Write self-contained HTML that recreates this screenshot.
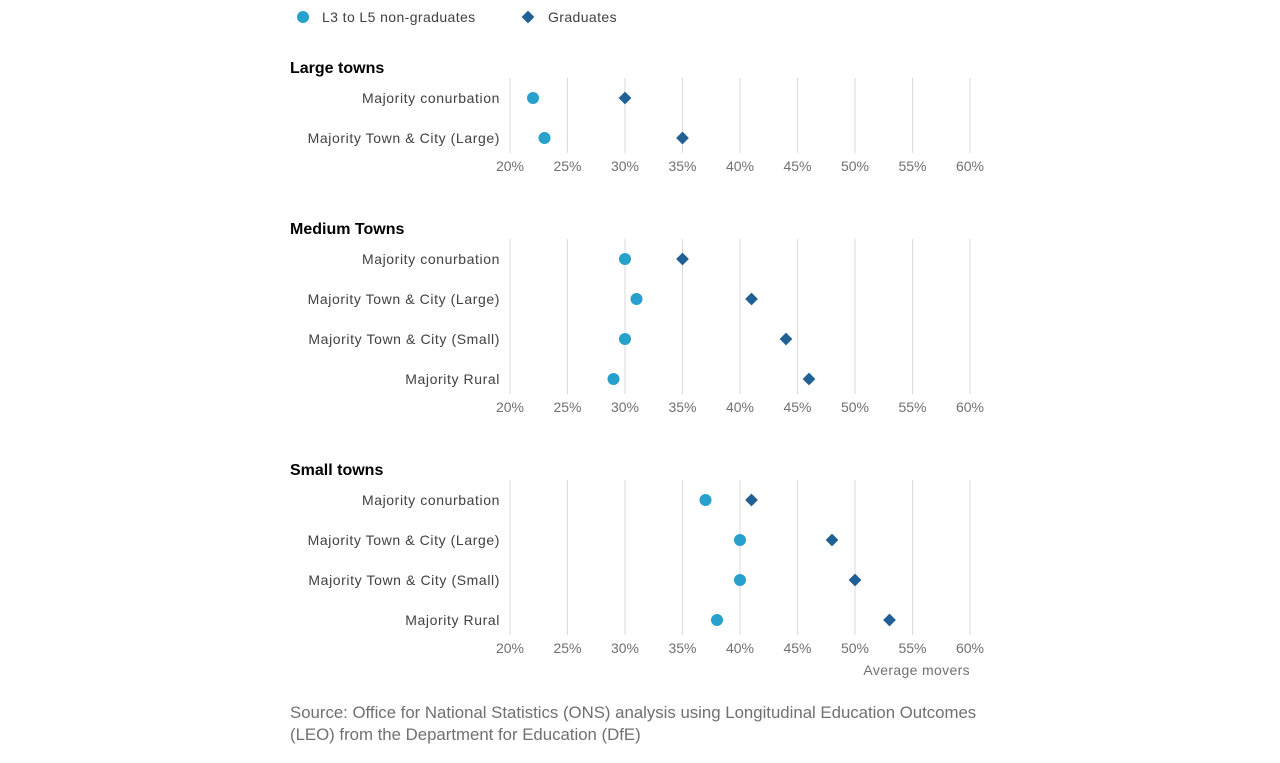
<!DOCTYPE html>
<html><head><meta charset="utf-8"><style>
body{margin:0;background:#fff;width:1280px;height:763px;overflow:hidden;font-family:"Liberation Sans",sans-serif}
svg{display:block}
</style></head><body>
<svg id="chart" width="1280" height="763" xmlns="http://www.w3.org/2000/svg"></svg>
<script>
const panelTitles = ["Large towns","Medium Towns","Small towns"];
const panelCategories = [
 ["Majority conurbation","Majority Town & City (Large)"],
 ["Majority conurbation","Majority Town & City (Large)","Majority Town & City (Small)","Majority Rural"],
 ["Majority conurbation","Majority Town & City (Large)","Majority Town & City (Small)","Majority Rural"]
];
const nonGraduates = [[22,23],[30,31,30,29],[37,40,40,38]];
const graduates = [[30,35],[35,41,44,46],[41,48,50,53]];
const ticks = [20,25,30,35,40,45,50,55,60];
const tickLabels = ["20%","25%","30%","35%","40%","45%","50%","55%","60%"];

const svg = document.getElementById('chart');
const NS = "http://www.w3.org/2000/svg";
const x = v => 510 + (v - 20) * 11.5;
function mk(tag, attrs, text){
  const e = document.createElementNS(NS, tag);
  for (const k in attrs) e.setAttribute(k, attrs[k]);
  if (text !== undefined) e.textContent = text;
  svg.appendChild(e);
  return e;
}
// legend
let e = mk('circle',{cx:303,cy:17,r:6,fill:'#27a0cc'});


e = mk('text',{x:322,y:22,'font-size':14,fill:'#414042','letter-spacing':0.4},'L3 to L5 non-graduates');


e = mk('rect',{x:-4.5,y:-4.5,width:9,height:9,fill:'#206095',transform:'translate(528,17) rotate(45)'});


e = mk('text',{x:548,y:22,'font-size':14,fill:'#414042','letter-spacing':0.4},'Graduates');



const panelTops = [67,228,469];
panelTitles.forEach((title, p) => {
  const top = panelTops[p];
  const cats = panelCategories[p];
  const firstRow = top + 31;
  const lastRow = firstRow + (cats.length - 1) * 40;
  const tickY = lastRow + 28;
  e = mk('text',{x:290,y:top+6,'font-size':16,'font-weight':'bold',fill:'#000'},title);
  
  
  ticks.forEach((t, i) => {
    e = mk('line',{x1:x(t),x2:x(t),y1:firstRow-20,y2:lastRow+15,stroke:'#d9d9d9','stroke-width':1});
    
    
    e = mk('text',{x:x(t),y:tickY+5,'font-size':14,fill:'#707070','text-anchor':'middle'},tickLabels[i]);
    
    
  });
  cats.forEach((c, i) => {
    const y = firstRow + i * 40;
    e = mk('text',{x:500,y:y+5,'font-size':14,fill:'#414042','text-anchor':'end','letter-spacing':0.6},c);
    
    
    e = mk('circle',{cx:x(nonGraduates[p][i]),cy:y,r:6,fill:'#27a0cc'});
    
    
    e = mk('rect',{x:-4.5,y:-4.5,width:9,height:9,fill:'#206095',transform:'translate(' + x(graduates[p][i]) + ',' + y + ') rotate(45)'});
    
    
  });
});
e = mk('text',{x:970,y:675,'font-size':14,fill:'#707070','text-anchor':'end','letter-spacing':0.35},'Average movers');


e = mk('text',{x:290,y:718,'font-size':16.8,fill:'#707070'},'Source: Office for National Statistics (ONS) analysis using Longitudinal Education Outcomes');


e = mk('text',{x:290,y:740,'font-size':16.8,fill:'#707070'},'(LEO) from the Department for Education (DfE)');


</script>
</body></html>
